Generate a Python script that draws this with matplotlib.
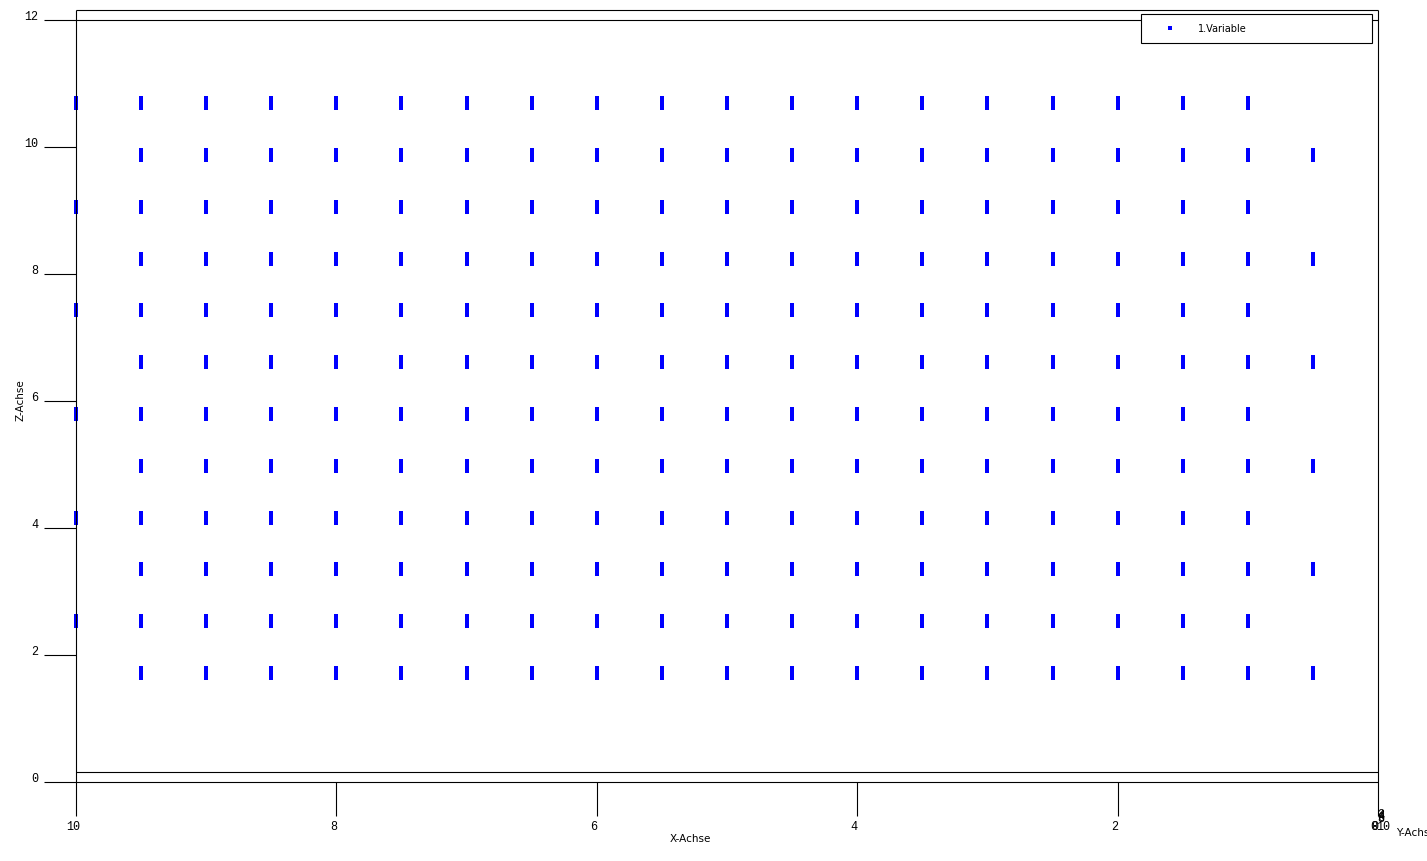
import matplotlib
matplotlib.use('Agg')
import matplotlib.pyplot as plt
from matplotlib.transforms import offset_copy

# lattice points (x columns, z layers, depth along y)
X_COLS = [10.0, 9.5, 9.0, 8.5, 8.0, 7.5, 7.0, 6.5, 6.0, 5.5,
          5.0, 4.5, 4.0, 3.5, 3.0, 2.5, 2.0, 1.5, 1.0, 0.5]
COL_LAYERS = ['odd'] + ['all'] * 18 + ['even']
Z_LAYERS = [1.63, 2.45, 3.27, 4.08, 4.90, 5.72, 6.53, 7.35, 8.16, 8.98, 9.80, 10.61]
Y_DEPTHS = [0, 2, 4, 6, 8, 10]

X_TICKS = [10, 8, 6, 4, 2, 0]
Z_TICKS = [0, 2, 4, 6, 8, 10, 12]
Y_TICKS = [0, 2, 4, 6, 8, 10]

DEPTH_SHIFT = 0.016   # how much y pushes a point up on screen (view almost along y)

W, H = 1427, 861
fig = plt.figure(figsize=(W / 100, H / 100), dpi=100)
ax = fig.add_axes([76 / W, (H - 782) / H, 1302 / W, 771 / H])
ax.set_xlim(10, 0)
ax.set_ylim(0, 771 / 63.5)
ax.axis('off')

xs, zs = [], []
for x, sel in zip(X_COLS, COL_LAYERS):
    for i, z in enumerate(Z_LAYERS):
        if sel == 'odd' and i % 2 == 0:
            continue
        if sel == 'even' and i % 2 == 1:
            continue
        for y in Y_DEPTHS:
            xs.append(x)
            zs.append(z + y * DEPTH_SHIFT)

ax.plot(xs, zs, ls='none', marker='s', ms=2.6, mew=0, color='#0000ff',
        label='1.Variable', clip_on=False)

# box / axes, drawn like the scilab 3d frame
lw = 0.8
kw = dict(color='black', lw=lw, clip_on=False, solid_capstyle='butt')
xl = 10 + 32 / 130.2
zb = -34 / 63.5
back = Y_DEPTHS[-1] * DEPTH_SHIFT
ax.plot([xl, 0], [0, 0], **kw)
ax.plot([10, 0], [back, back], **kw)
ax.plot([xl, 0], [12, 12], **kw)
ax.plot([10, 0], [12 + back, 12 + back], **kw)
ax.plot([10, 10], [zb, 12 + back], **kw)
ax.plot([0, 0], [zb, 12 + back], **kw)
for z in Z_TICKS[1:-1]:
    ax.plot([xl, 10], [z, z], **kw)
for x in X_TICKS[1:-1]:
    ax.plot([x, x], [0, zb], **kw)

tick_font = dict(family='Liberation Mono', size=8.5)
for z in Z_TICKS:
    ax.text(xl, z, str(z), transform=offset_copy(ax.transData, fig, x=-6, y=3, units='dots'),
            ha='right', va='center', **tick_font)
for x in X_TICKS:
    ax.text(x, zb, str(x), transform=offset_copy(ax.transData, fig, x=-3, y=-10.5, units='dots'),
            ha='center', va='center', **tick_font)
for y in Y_TICKS:
    if y in (0, 10):
        dx, dy = -4 + 0.9 * y, -10.5
    else:
        dx, dy = 3, 2 - 0.6 * y
    ax.text(0, zb, str(y), transform=offset_copy(ax.transData, fig, x=dx, y=dy, units='dots'),
            ha='center', va='center', **tick_font)

lab_font = dict(family='DejaVu Sans', size=7.5)
fig.text(20 / W, 1 - 400 / H, 'Z-Achse', rotation=90, ha='center', va='center', **lab_font)
fig.text(690 / W, 1 - 839 / H, 'X-Achse', ha='center', va='center', **lab_font)
fig.text(1396 / W, 1 - 833 / H, 'Y-Achse', ha='left', va='center', **lab_font)

leg = ax.legend(loc='upper left', mode='expand', bbox_to_anchor=(1141 / W, 1 - 44 / H, 231 / W, 30 / H),
                bbox_transform=fig.transFigure, borderaxespad=0, borderpad=1.0,
                handlelength=4.0, handletextpad=0.9, numpoints=1, markerscale=1.2,
                fancybox=False, framealpha=1, edgecolor='black', prop=dict(family='DejaVu Sans', size=7))
leg.get_frame().set_linewidth(lw)

fig.savefig('out.png', dpi=100)
